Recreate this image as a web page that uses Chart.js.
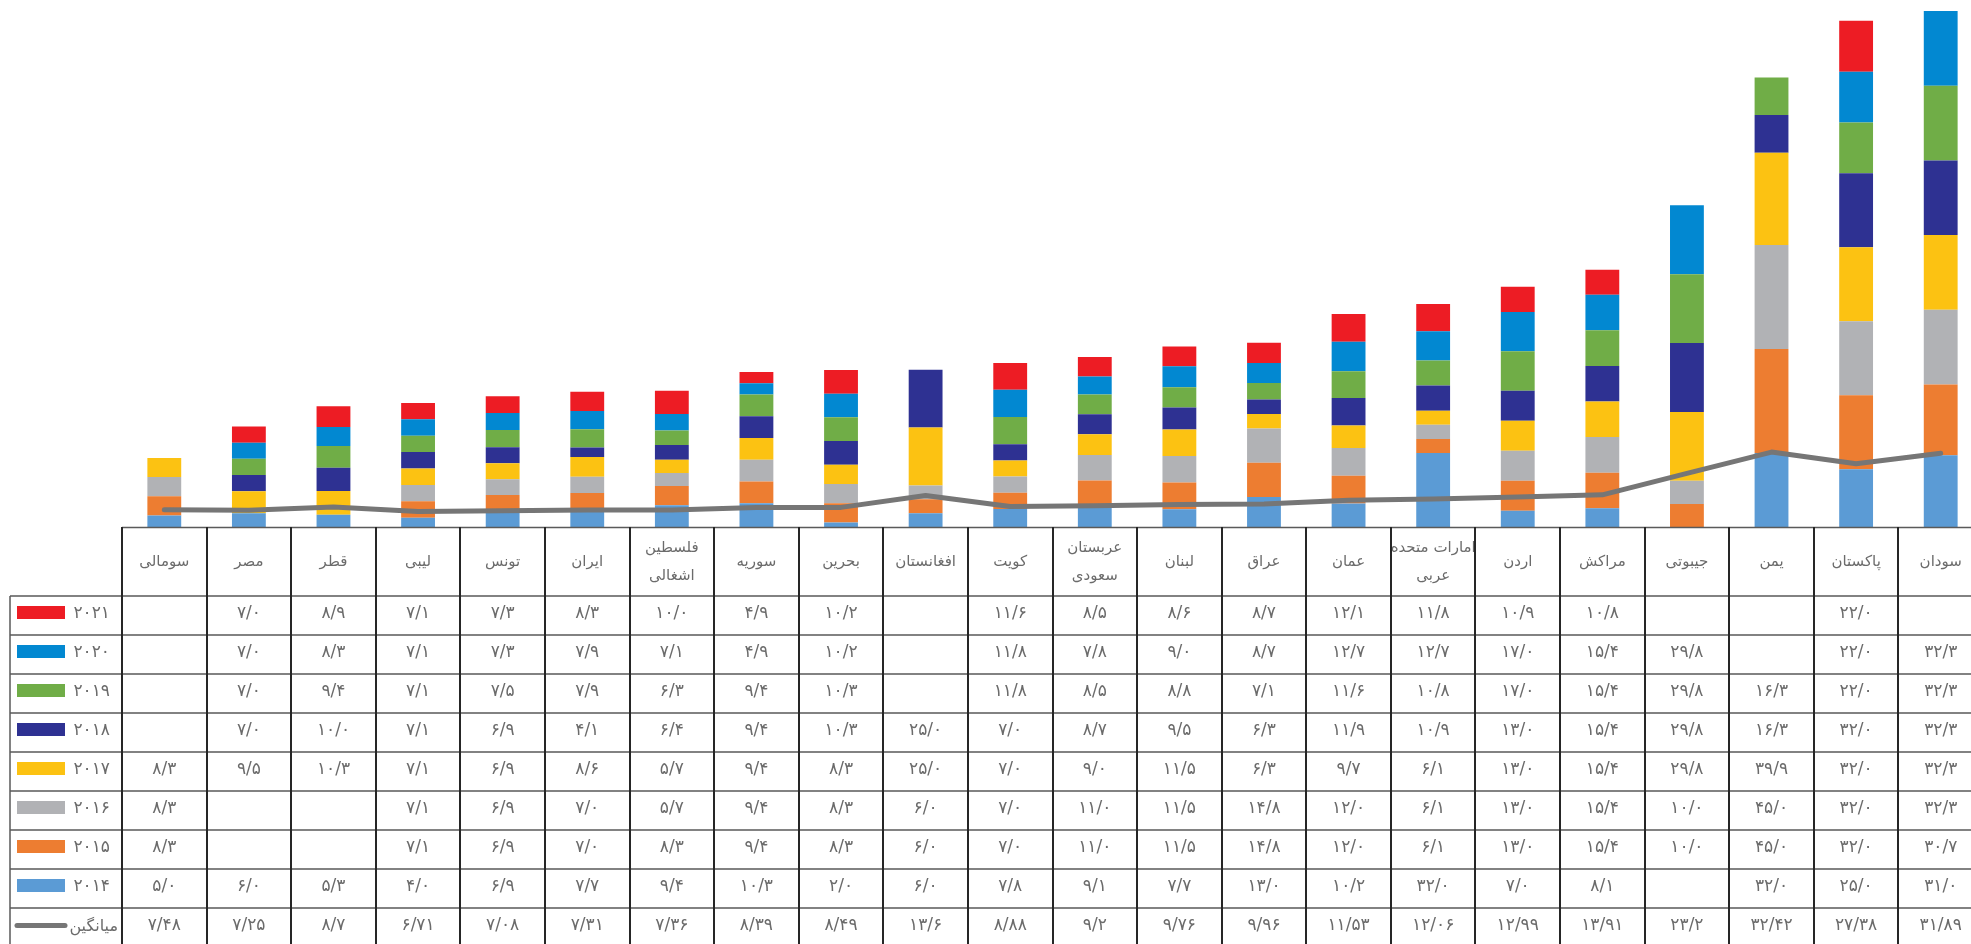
<!DOCTYPE html>
<html lang="fa">
<head>
<meta charset="utf-8">
<title>نرخ سالانه</title>
<script src="https://cdn.jsdelivr.net/npm/chart.js@4.4.1/dist/chart.umd.min.js"></script>
<style>
  html, body { margin: 0; padding: 0; background: #fff; overflow: hidden; }
  #wrap { position: relative; width: 1984px; height: 944px; }
</style>
</head>
<body>
<div id="wrap"><canvas id="c"></canvas></div>
<script>
// Countries (category order left to right); two-line labels are arrays
const categories = [
  'سومالی', 'مصر', 'قطر', 'لیبی', 'تونس', 'ایران', ['فلسطین', 'اشغالی'], 'سوریه',
  'بحرین', 'افغانستان', 'کویت', ['عربستان', 'سعودی'], 'لبنان', 'عراق', 'عمان',
  ['امارات متحده', 'عربی'], 'اردن', 'مراکش', 'جیبوتی', 'یمن', 'پاکستان', 'سودان'
];

// Yearly values per country (null = no value)
const v2014 = [5.0, 6.0, 5.3, 4.0, 6.9, 7.7, 9.4, 10.3, 2.0, 6.0, 7.8, 9.1, 7.7, 13.0, 10.2, 32.0, 7.0, 8.1, null, 32.0, 25.0, 31.0];
const v2015 = [8.3, null, null, 7.1, 6.9, 7.0, 8.3, 9.4, 8.3, 6.0, 7.0, 11.0, 11.5, 14.8, 12.0, 6.1, 13.0, 15.4, 10.0, 45.0, 32.0, 30.7];
const v2016 = [8.3, null, null, 7.1, 6.9, 7.0, 5.7, 9.4, 8.3, 6.0, 7.0, 11.0, 11.5, 14.8, 12.0, 6.1, 13.0, 15.4, 10.0, 45.0, 32.0, 32.3];
const v2017 = [8.3, 9.5, 10.3, 7.1, 6.9, 8.6, 5.7, 9.4, 8.3, 25.0, 7.0, 9.0, 11.5, 6.3, 9.7, 6.1, 13.0, 15.4, 29.8, 39.9, 32.0, 32.3];
const v2018 = [null, 7.0, 10.0, 7.1, 6.9, 4.1, 6.4, 9.4, 10.3, 25.0, 7.0, 8.7, 9.5, 6.3, 11.9, 10.9, 13.0, 15.4, 29.8, 16.3, 32.0, 32.3];
const v2019 = [null, 7.0, 9.4, 7.1, 7.5, 7.9, 6.3, 9.4, 10.3, null, 11.8, 8.5, 8.8, 7.1, 11.6, 10.8, 17.0, 15.4, 29.8, 16.3, 22.0, 32.3];
const v2020 = [null, 7.0, 8.3, 7.1, 7.3, 7.9, 7.1, 4.9, 10.2, null, 11.8, 7.8, 9.0, 8.7, 12.7, 12.7, 17.0, 15.4, 29.8, null, 22.0, 32.3];
const v2021 = [null, 7.0, 8.9, 7.1, 7.3, 8.3, 10.0, 4.9, 10.2, null, 11.6, 8.5, 8.6, 8.7, 12.1, 11.8, 10.9, 10.8, null, null, 22.0, null];

// Average per country
const average = [7.48, 7.25, 8.7, 6.71, 7.08, 7.31, 7.36, 8.39, 8.49, 13.6, 8.88, 9.2, 9.76, 9.96, 11.53, 12.06, 12.99, 13.91, 23.2, 32.42, 27.38, 31.89];

const years = ['2014', '2015', '2016', '2017', '2018', '2019', '2020', '2021'];
const avgLabel = 'میانگین';

const seriesValues = [v2014, v2015, v2016, v2017, v2018, v2019, v2020, v2021];
const seriesColors = ['#5B9BD5', '#ED7D31', '#B1B2B5', '#FCC212', '#2E3192', '#70AD47', '#0288D1', '#ED1C24'];
const avgColor = '#767676';
const textColor = '#6b6b6b';
const FONT = '"DejaVu Sans", sans-serif';

const faDigits = '۰۱۲۳۴۵۶۷۸۹';
const toFa = s => String(s).replace(/\d/g, d => faDigits[d]).replace('.', '/');

const datasets = seriesValues.map((vals, i) => ({
  type: 'bar',
  label: years[i],
  data: vals,
  backgroundColor: seriesColors[i],
  borderWidth: 0,
  barPercentage: 0.4,
  categoryPercentage: 1.0,
  yAxisID: 'y',
  order: 1
}));
datasets.push({
  type: 'line',
  label: avgLabel,
  data: average,
  borderColor: avgColor,
  borderWidth: 5,
  borderCapStyle: 'round',
  borderJoinStyle: 'round',
  pointRadius: 0,
  tension: 0,
  fill: false,
  yAxisID: 'y1',
  order: 0
});

// Data table drawn under the plot, one column per category
const dataTable = {
  id: 'dataTable',
  beforeDraw(chart) {
    const ctx = chart.ctx;
    ctx.save();
    ctx.fillStyle = '#fff';
    ctx.fillRect(0, 0, chart.width, chart.height);
    ctx.restore();
  },
  afterDraw(chart) {
    const ctx = chart.ctx;
    const xs = chart.scales.x;
    const area = chart.chartArea;
    const n = categories.length;
    const colW = (area.right - area.left) / n;
    const top = area.bottom;
    const headH = 69;
    const rowH = 39;
    const legendL = 10;
    const bodyTop = top + headH;

    const rows = [];
    for (let i = years.length - 1; i >= 0; i--) {
      rows.push({ label: toFa(years[i]), color: seriesColors[i], values: seriesValues[i].map(v => v == null ? '' : toFa(v.toFixed(1))) });
    }
    rows.push({ label: avgLabel, line: true, values: average.map(v => toFa(v)) });
    const bottom = bodyTop + rows.length * rowH;

    ctx.save();
    ctx.fillStyle = textColor;
    ctx.textBaseline = 'middle';
    ctx.textAlign = 'center';

    // Header: category names
    ctx.font = '15px ' + FONT;
    ctx.direction = 'rtl';
    categories.forEach((c, i) => {
      const cx = xs.getPixelForValue(i);
      const cy = top + headH / 2 + 1;
      if (Array.isArray(c)) {
        ctx.fillText(c[0], cx, cy - 14);
        ctx.fillText(c[1], cx, cy + 14);
      } else {
        ctx.fillText(c, cx, cy);
      }
    });

    // Body rows
    rows.forEach((r, k) => {
      const rowTop = bodyTop + k * rowH;
      const cy = rowTop + rowH / 2 - 2;
      if (r.line) {
        ctx.strokeStyle = avgColor;
        ctx.lineWidth = 5;
        ctx.lineCap = 'round';
        ctx.beginPath();
        ctx.moveTo(17, cy);
        ctx.lineTo(65, cy);
        ctx.stroke();
        ctx.fillStyle = textColor;
        ctx.font = '16px ' + FONT;
        ctx.direction = 'rtl';
        ctx.textAlign = 'right';
        ctx.fillText(r.label, 118, cy + 1);
      } else {
        ctx.fillStyle = r.color;
        ctx.fillRect(17, rowTop + 10, 48, 13);
        ctx.fillStyle = textColor;
        ctx.font = '17px ' + FONT;
        ctx.direction = 'ltr';
        ctx.textAlign = 'right';
        ctx.fillText(r.label, 110, cy);
      }
      ctx.direction = 'ltr';
      ctx.textAlign = 'center';
      ctx.font = '17px ' + FONT;
      ctx.fillStyle = textColor;
      r.values.forEach((t, i) => {
        if (t) ctx.fillText(t, xs.getPixelForValue(i), cy);
      });
    });

    // Grid lines
    ctx.lineCap = 'butt';
    ctx.strokeStyle = '#5a5a5a';
    ctx.lineWidth = 1.5;
    ctx.beginPath();
    ctx.moveTo(area.left, top + 0.5);
    ctx.lineTo(area.right + 2, top + 0.5);
    for (let k = 0; k <= rows.length; k++) {
      const y = bodyTop + k * rowH;
      ctx.moveTo(legendL, y);
      ctx.lineTo(area.right + 2, y);
    }
    ctx.moveTo(legendL, bodyTop);
    ctx.lineTo(legendL, bottom);
    ctx.stroke();

    ctx.strokeStyle = '#262626';
    ctx.lineWidth = 2;
    ctx.beginPath();
    for (let i = 0; i <= n; i++) {
      const x = Math.round(area.left + i * colW);
      ctx.moveTo(x, top);
      ctx.lineTo(x, bottom);
    }
    ctx.stroke();
    ctx.restore();
  }
};

new Chart(document.getElementById('c'), {
  data: { labels: categories, datasets },
  options: {
    responsive: true,
    maintainAspectRatio: false,
    animation: false,
    layout: { padding: { left: 122, right: 1, top: 0, bottom: 417 } },
    plugins: { legend: { display: false }, tooltip: { enabled: false } },
    scales: {
      x: { display: false, stacked: true, offset: true },
      y: { display: false, stacked: true, min: 0, max: 228 },
      y1: { display: false, min: 0, max: 228 }
    }
  },
  plugins: [dataTable]
});
</script>
</body>
</html>
